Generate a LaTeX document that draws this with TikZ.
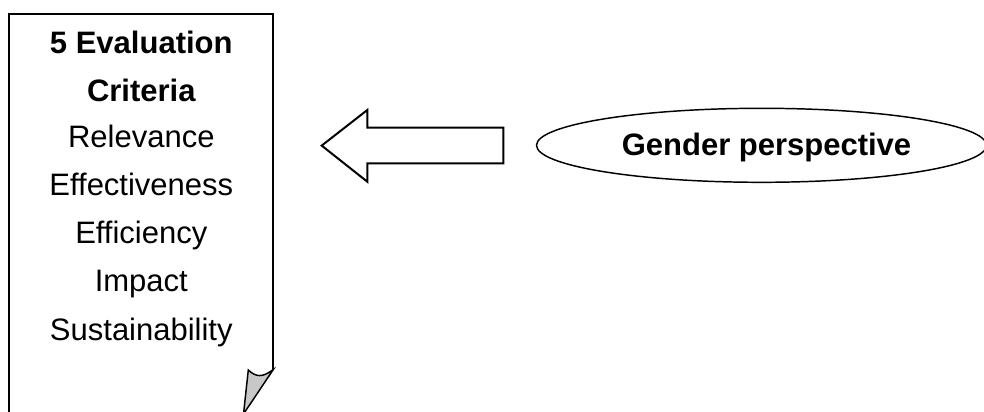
\documentclass[tikz,border=0pt]{standalone}
\usepackage{fontspec}
\setmainfont{Liberation Sans}
\usetikzlibrary{shapes.geometric}
\definecolor{foldgray}{HTML}{C8C8C8}
\tikzset{
  outline/.style={draw=black, line width=1.5pt, line join=miter},
  crit/.style={anchor=base, inner sep=0pt, font=\fontsize{23.25}{28}\selectfont},
  crithead/.style={crit, font=\fontsize{23.25}{28}\selectfont\bfseries},
  oval/.style={ellipse, draw=black, line width=1.1pt, minimum width=450*0.75pt, minimum height=74*0.75pt, inner sep=0pt}
}
\begin{document}
\begin{tikzpicture}[x=0.75pt, y=-0.75pt]
\useasboundingbox (0,0) rectangle (984,411);
\clip (0,0) rectangle (984,411);

% document sheet with curled corner
\draw[outline] (9.3,420) -- (9.3,14) -- (273.3,14) -- (273.3,369.5);
\draw[black, line width=1.1pt, fill=foldgray]
  (273.3,369.5) .. controls (262,378) and (256,377) .. (248.3,370)
  -- (243.5,414) -- cycle;

% criteria list
\node[crithead] (h1) at (141.3,53.3) {5 Evaluation};
\node[crithead] (h2) at (141.3,101.7) {Criteria};
\node[crit] (c1) at (141.3,147.3) {Relevance};
\node[crit] (c2) at (141.3,195.7) {Effectiveness};
\node[crit] (c3) at (141.3,243.5) {Efficiency};
\node[crit] (c4) at (141.3,291.7) {Impact};
\node[crit] (c5) at (141.3,340.5) {Sustainability};

% block arrow pointing to the sheet
\draw[outline] (321.7,145.6) -- (367.3,110) -- (367.3,127.7) -- (503.3,127.7)
  -- (503.3,163.3) -- (367.3,163.3) -- (367.3,181.7) -- cycle;

% gender perspective oval
\node[oval] (g) at (761.5,145.3) {};
\node[anchor=base, inner sep=0pt, font=\fontsize{23.25}{28}\selectfont\bfseries] (gt) at (766.5,155) {Gender perspective};
\end{tikzpicture}
\end{document}
